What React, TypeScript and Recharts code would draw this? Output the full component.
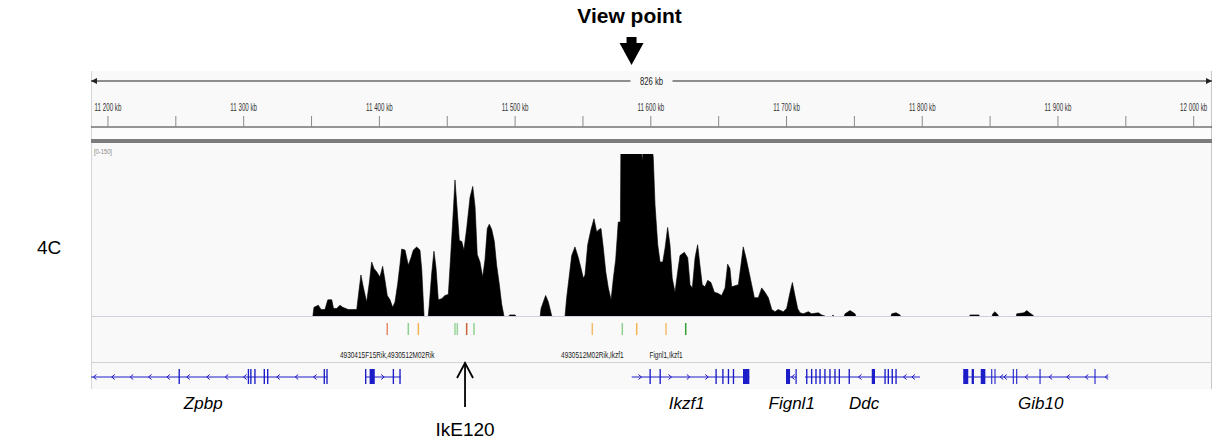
import React from "react";
import { ComposedChart, Area, Scatter, XAxis, YAxis, ReferenceLine, ReferenceArea } from "recharts";

// ---------- data ----------
const X_DOMAIN: [number, number] = [11187.5, 12013.5]; // kb shown in the browser window
const RULER_TICKS = [11200, 11250, 11300, 11350, 11400, 11450, 11500, 11550, 11600, 11650, 11700, 11750, 11800, 11850, 11900, 11950, 12000];
const MAJOR_TICKS = [11200, 11300, 11400, 11500, 11600, 11700, 11800, 11900, 12000];
const MAJOR_LABELS = ["11 200 kb", "11 300 kb", "11 400 kb", "11 500 kb", "11 600 kb", "11 700 kb", "11 800 kb", "11 900 kb", "12 000 kb"];
const SPAN_LABEL = "826 kb";
const VIEWPOINT_KB = 11585.8;
const VIEWPOINT_LABEL = "View point";
const TRACK_LABEL = "4C";
const SIGNAL_RANGE: [number, number] = [0, 150];
const SIGNAL_RANGE_LABEL = "[0-150]";

// 4C signal: segments of [kb, value]
const SIGNAL_SEGMENTS: [number, number][][] = [
  [[11351.0, 0], [11351.8, 8], [11355.0, 10], [11357.0, 6], [11359.9, 6], [11362.0, 15], [11364.9, 15], [11366.2, 7], [11368.5, 7], [11371.0, 10], [11373.0, 8], [11377.1, 6], [11383.3, 6], [11385.2, 26], [11386.4, 38], [11388.1, 27], [11390.6, 13], [11392.6, 31], [11394.3, 50], [11396.0, 44], [11398.0, 41], [11400.4, 36], [11402.4, 46], [11404.1, 33], [11405.8, 19], [11407.8, 15], [11409.8, 8], [11411.5, 13], [11413.5, 30], [11415.2, 48], [11416.4, 62], [11418.9, 61], [11421.3, 47], [11423.3, 54], [11425.0, 61], [11427.5, 64], [11429.9, 61], [11431.2, 43], [11432.9, 0]],
  [[11436.0, 0], [11436.8, 11], [11438.5, 39], [11440.2, 60], [11441.7, 45], [11443.4, 15], [11445.9, 16], [11448.3, 19], [11450.8, 20], [11452.5, 55], [11454.5, 98], [11455.7, 126], [11457.0, 104], [11458.9, 70], [11460.7, 69], [11462.3, 61], [11464.3, 81], [11466.8, 110], [11468.8, 120], [11470.5, 101], [11472.1, 57], [11474.1, 50], [11476.1, 36], [11477.8, 52], [11479.5, 81], [11481.0, 85], [11482.8, 80], [11484.7, 69], [11486.4, 47], [11488.4, 29], [11490.1, 11], [11491.8, 0]],
  [[11495.5, 0], [11496.0, 1], [11500.0, 1], [11500.5, 0]],
  [[11518.5, 0], [11519.1, 7], [11522.5, 19], [11524.5, 13], [11527.0, 0]],
  [[11536.8, 0], [11538.0, 17], [11539.7, 35], [11541.7, 56], [11544.1, 64], [11546.6, 54], [11548.6, 44], [11550.3, 35], [11551.5, 38], [11553.5, 66], [11555.9, 80], [11558.1, 90], [11560.1, 78], [11561.8, 80], [11563.3, 81], [11565.0, 63], [11566.8, 41], [11568.7, 26], [11570.7, 15], [11572.4, 35], [11574.1, 52], [11576.0, 87], [11577.6, 87], [11577.9, 150], [11593.3, 150], [11593.7, 143], [11594.1, 150], [11601.5, 150], [11601.8, 147], [11603.1, 103], [11605.1, 66], [11606.8, 50], [11608.8, 50], [11610.5, 63], [11612.4, 82], [11614.1, 66], [11615.8, 35], [11617.8, 22], [11619.8, 41], [11621.5, 56], [11624.7, 59], [11627.2, 54], [11628.9, 29], [11630.6, 26], [11632.6, 54], [11634.5, 66], [11636.2, 47], [11637.9, 29], [11639.9, 27], [11641.9, 33], [11644.3, 31], [11646.8, 22], [11649.3, 21], [11652.2, 19], [11654.7, 26], [11656.6, 48], [11658.3, 44], [11659.6, 27], [11662.0, 28], [11664.5, 29], [11666.4, 47], [11668.1, 64], [11670.1, 54], [11672.3, 41], [11674.3, 29], [11676.3, 17], [11679.2, 17], [11681.7, 26], [11684.1, 22], [11686.6, 17], [11689.1, 6], [11691.5, 4], [11693.9, 6], [11697.6, 4], [11700.1, 7], [11702.6, 22], [11704.3, 31], [11706.2, 19], [11708.2, 7], [11709.9, 3], [11712.4, 2], [11716.0, 4], [11718.5, 2], [11723.4, 3], [11725.9, 1], [11728.3, 0]],
  [[11733.8, 0], [11734.2, 1], [11734.8, 0]],
  [[11742.5, 0], [11743.1, 2], [11746.8, 5], [11750.5, 2], [11751.0, 0]],
  [[11777.0, 0], [11777.5, 2], [11780.7, 3], [11783.6, 1], [11784.0, 0]],
  [[11835.0, 0], [11835.2, 1], [11841.8, 1], [11842.0, 0]],
  [[11851.5, 0], [11852.0, 2], [11853.6, 4], [11855.8, 1], [11856.0, 0]],
  [[11869.4, 0], [11869.6, 2], [11875.0, 3], [11877.0, 5], [11879.0, 3], [11881.4, 1], [11882.0, 0]],
];

// feature track (coloured ticks + labels)
const FEATURE_KB = [11405.8, 11421.3, 11428.7, 11455.7, 11457.4, 11464.3, 11469.7, 11556.9, 11579.0, 11589.6, 11611.2, 11625.7];
const FEATURE_COLORS = ["#e88a6c", "#8fcf8f", "#f4b450", "#9ad49a", "#9ad49a", "#c8643c", "#8fcf8f", "#f4bd6c", "#8fcf8f", "#f4b450", "#f4bd6c", "#35a035"];
const FEATURE_LABEL_KB = [11405.8, 11556.9, 11611.2];
const FEATURE_LABELS = ["4930415F15Rik,4930512M02Rik", "4930512M02Rik,Ikzf1", "Fignl1,Ikzf1"];

// gene track
const GENE_NAMES = ["Zpbp", "", "Ikzf1", "Fignl1", "Ddc", "Gib10"];
const GENE_STRANDS = [-1, 1, 1, -1, -1, -1];
const GENE_SPANS: [number, number][] = [[11187.5, 11361.7], [11389.4, 11415.7], [11585.9, 11672.6], [11699.6, 11707.5], [11713.6, 11798.3], [11830.2, 11937.1]];
const GENE_LABEL_KB = [11270.2, 0, 11626.4, 11703.8, 11757.1, 11887.3];
const GENE_EXONS: [number, number][][] = [
  [[11252.0, 11253.0], [11303.0, 11304.0], [11304.8, 11305.8], [11307.8, 11308.8], [11314.7, 11315.7], [11317.2, 11318.2], [11358.9, 11359.9], [11360.9, 11361.9]],
  [[11389.4, 11390.4], [11392.8, 11396.6], [11409.8, 11410.8], [11414.7, 11415.7]],
  [[11599.0, 11600.0], [11606.4, 11607.4], [11647.6, 11648.6], [11652.6, 11653.6], [11656.7, 11657.7], [11660.4, 11661.4], [11667.9, 11672.6]],
  [[11699.6, 11702.6], [11706.6, 11707.5]],
  [[11714.4, 11715.4], [11718.0, 11719.0], [11721.2, 11722.2], [11724.2, 11725.2], [11727.8, 11728.8], [11731.5, 11732.5], [11735.2, 11736.2], [11738.4, 11739.4], [11745.7, 11746.7], [11762.8, 11765.2], [11772.1, 11773.1], [11774.5, 11775.5], [11777.4, 11778.4], [11780.2, 11781.2]],
  [[11830.2, 11833.9], [11836.4, 11838.1], [11843.1, 11846.5], [11850.8, 11851.6], [11853.2, 11854.0], [11866.7, 11867.5], [11869.2, 11870.0], [11886.4, 11887.2], [11926.9, 11927.7]],
];
const GENE_CHEVRONS: number[][] = [
  [11190.4, 11203.9, 11217.5, 11231.0, 11244.5, 11259.2, 11273.9, 11287.5, 11301.0, 11325.5, 11339.1, 11352.6],
  [11402.4],
  [11592.0, 11614.1, 11627.6, 11641.2],
  [11704.8],
  [11754.1, 11787.3, 11793.5],
  [11858.5, 11861.2, 11876.9, 11894.6, 11907.6, 11921.2, 11935.9],
];
const ENHANCER_KB = 11463.1;
const ENHANCER_LABEL = "IkE120";

// ---------- layout / style ----------
const W = 1216;
const MARGIN_X = { left: 91, right: 4 };
const BLUE = "#1c1cc8";
const FONT = "'Liberation Sans', Arial, Helvetica, sans-serif";
const SPAN_ROW = 81;
const VIEWPOINT_ROW = 65;
const FEATURE_TICK_ROWS: [number, number] = [6, 18];
const FEATURE_LABEL_ROW = 41;
const GENE_ROW = 60;
const EXON_ROWS: [number, number] = [52, 67];
const GENE_NAME_ROW = 92;
const ENHANCER_ROW = 45;

// ---------- derived tables ----------
const signalData: { x: number; v: number | null }[] = [];
SIGNAL_SEGMENTS.forEach((seg, i) => {
  if (i > 0) signalData.push({ x: (SIGNAL_SEGMENTS[i - 1][SIGNAL_SEGMENTS[i - 1].length - 1][0] + seg[0][0]) / 2, v: null });
  seg.forEach(([x, v]) => signalData.push({ x, v }));
});
const spanEnds = [{ x: X_DOMAIN[0], y: SPAN_ROW, dir: -1 }, { x: X_DOMAIN[1], y: SPAN_ROW, dir: 1 }];
const spanMid = [{ x: (X_DOMAIN[0] + X_DOMAIN[1]) / 2, y: SPAN_ROW }];
const chevronData = GENE_CHEVRONS.flatMap((list, g) => list.map((x) => ({ x, y: GENE_ROW, dir: GENE_STRANDS[g] })));
const geneNameData = GENE_NAMES.map((name, g) => ({ x: GENE_LABEL_KB[g], y: GENE_NAME_ROW, name })).filter((d) => d.name);
const featureLabelData = FEATURE_LABELS.map((name, i) => ({ x: FEATURE_LABEL_KB[i], y: FEATURE_LABEL_ROW, name }));

// horizontally condensed text (IGV's narrow font)
const Squeezed = ({ x, y, sx, size, fill = "#222", weight = "normal", children }: any) => (
  <text transform={`translate(${x},${y}) scale(${sx},1)`} x={0} y={0} textAnchor="middle" fontSize={size} fill={fill} fontWeight={weight} fontFamily={FONT}>
    {children}
  </text>
);

// ---------- shapes ----------
const RulerTick = (props: any) => {
  const { x, y, payload } = props;
  const i = MAJOR_TICKS.indexOf(payload.value);
  if (i < 0) return <g />;
  return (
    <Squeezed x={x} y={y} sx={0.62} size={10} fill="#333">
      {MAJOR_LABELS[i]}
    </Squeezed>
  );
};

const ArrowEnd = (p: any) => {
  const { cx, cy, payload } = p;
  const d = payload.dir < 0 ? `M${cx},${cy} l6,-3 l0,6 z` : `M${cx},${cy} l-6,-3 l0,6 z`;
  return <path d={d} fill="#222" />;
};

const SpanLabel = (p: any) => {
  const { cx, cy } = p;
  return (
    <g>
      <rect x={cx - 21} y={cy - 6} width={42} height={12} fill="#f9f9f9" />
      <Squeezed x={cx} y={cy + 4} sx={0.7} size={11} fill="#222">
        {SPAN_LABEL}
      </Squeezed>
    </g>
  );
};

const ViewPoint = (p: any) => {
  const { cx, cy } = p;
  return (
    <g>
      <Squeezed x={cx - 2} y={cy - 42} sx={1.05} size={20} fill="#000" weight="bold">
        {VIEWPOINT_LABEL}
      </Squeezed>
      <rect x={cx - 5} y={cy - 28} width={10} height={7} fill="#000" />
      <path d={`M${cx - 12},${cy - 22} L${cx + 12},${cy - 22} L${cx},${cy} Z`} fill="#000" />
    </g>
  );
};

const Chevron = (p: any) => {
  const { cx, cy, payload } = p;
  const d = payload.dir < 0
    ? `M${cx + 1.5},${cy - 2.5} L${cx - 1.5},${cy} L${cx + 1.5},${cy + 2.5}`
    : `M${cx - 1.5},${cy - 2.5} L${cx + 1.5},${cy} L${cx - 1.5},${cy + 2.5}`;
  return <path d={d} stroke={BLUE} strokeWidth={1} fill="none" />;
};

const GeneName = (p: any) => (
  <text x={p.cx} y={p.cy} textAnchor="middle" fontSize={17} fontStyle="italic" fill="#000" fontFamily={FONT}>
    {p.payload.name}
  </text>
);

const FeatureLabel = (p: any) => (
  <Squeezed x={p.cx} y={p.cy} sx={0.72} size={9} fill="#222">
    {p.payload.name}
  </Squeezed>
);

const Enhancer = (p: any) => {
  const { cx, cy } = p;
  return (
    <g>
      <line x1={cx} y1={cy + 1} x2={cx} y2={cy + 45} stroke="#000" strokeWidth={1.8} />
      <path d={`M${cx - 8},${cy + 16} L${cx},${cy + 1} L${cx + 8},${cy + 16}`} stroke="#000" strokeWidth={1.8} fill="none" />
      <text x={cx} y={cy + 74} textAnchor="middle" fontSize={19} fill="#000" fontFamily={FONT}>
        {ENHANCER_LABEL}
      </text>
    </g>
  );
};

const abs = (top: number): React.CSSProperties => ({ position: "absolute", left: 0, top });

export default function App() {
  return (
    <div style={{ position: "absolute", left: 0, top: 0, width: W, height: 445, background: "#fff", fontFamily: FONT, overflow: "hidden" }}>
      {/* panel background */}
      <div style={{ position: "absolute", left: 91, top: 71, width: 1121, height: 318, background: "#f9f9f9", borderLeft: "1px solid #d6d6d6", borderRight: "1px solid #c8c8c8", boxSizing: "border-box" }} />
      <div style={{ position: "absolute", left: 92, top: 128, width: 1119, height: 11, background: "#fcfcfc" }} />
      <div style={{ position: "absolute", left: 91, top: 139, width: 1121, height: 4, background: "#7c7c7c" }} />
      <div style={{ position: "absolute", left: 91, top: 316, width: 1121, height: 1, background: "#cfd0dc" }} />
      <div style={{ position: "absolute", left: 91, top: 362, width: 1121, height: 1, background: "#d3d3d3" }} />

      {/* span line + view point */}
      <div style={abs(0)}>
        <ComposedChart width={W} height={100} margin={{ top: 0, bottom: 0, ...MARGIN_X }}>
          <XAxis type="number" dataKey="x" domain={X_DOMAIN} allowDataOverflow hide />
          <YAxis type="number" dataKey="y" domain={[0, 100]} reversed allowDataOverflow hide />
          <ReferenceLine segment={[{ x: X_DOMAIN[0], y: SPAN_ROW }, { x: X_DOMAIN[1], y: SPAN_ROW }]} stroke="#222" strokeWidth={1} ifOverflow="visible" />
          <Scatter data={spanEnds} shape={ArrowEnd} isAnimationActive={false} />
          <Scatter data={spanMid} shape={SpanLabel} isAnimationActive={false} />
          <Scatter data={[{ x: VIEWPOINT_KB, y: VIEWPOINT_ROW }]} shape={ViewPoint} isAnimationActive={false} />
        </ComposedChart>
      </div>

      {/* ruler */}
      <div style={abs(0)}>
        <ComposedChart width={W} height={145} margin={{ top: 71, bottom: 2, ...MARGIN_X }}>
          <XAxis
            orientation="top"
            type="number"
            dataKey="x"
            domain={X_DOMAIN}
            allowDataOverflow
            ticks={RULER_TICKS}
            interval={0}
            height={56}
            tickSize={11}
            tickMargin={5}
            tick={RulerTick}
            axisLine={{ stroke: "#333" }}
            tickLine={{ stroke: "#8a8a8a" }}
          />
          <YAxis type="number" dataKey="y" domain={[0, 1]} hide />
          <Scatter data={[]} isAnimationActive={false} />
        </ComposedChart>
      </div>

      {/* 4C signal */}
      <div style={abs(143)}>
        <ComposedChart width={W} height={174} data={signalData} margin={{ top: 11, bottom: 1, ...MARGIN_X }}>
          <XAxis type="number" dataKey="x" domain={X_DOMAIN} allowDataOverflow hide />
          <YAxis type="number" domain={SIGNAL_RANGE} allowDataOverflow hide />
          <Area type="linear" dataKey="v" stroke="#000" strokeWidth={0.6} fill="#000" fillOpacity={1} baseValue={0} dot={false} activeDot={false} isAnimationActive={false} />
        </ComposedChart>
      </div>

      {/* features + genes */}
      <div style={abs(317)}>
        <ComposedChart width={W} height={128} margin={{ top: 0, bottom: 0, ...MARGIN_X }}>
          <XAxis type="number" dataKey="x" domain={X_DOMAIN} allowDataOverflow hide />
          <YAxis type="number" dataKey="y" domain={[0, 128]} reversed allowDataOverflow hide />
          {FEATURE_KB.map((x, i) => (
            <ReferenceLine key={"f" + i} segment={[{ x, y: FEATURE_TICK_ROWS[0] }, { x, y: FEATURE_TICK_ROWS[1] }]} stroke={FEATURE_COLORS[i]} strokeWidth={1.5} ifOverflow="visible" />
          ))}
          {GENE_SPANS.map(([s, e], g) => (
            <ReferenceLine key={"g" + g} segment={[{ x: s, y: GENE_ROW }, { x: e, y: GENE_ROW }]} stroke={BLUE} strokeWidth={1} ifOverflow="visible" />
          ))}
          {GENE_EXONS.flatMap((list, g) =>
            list.map(([s, e], j) => (
              <ReferenceArea key={`e${g}-${j}`} x1={s} x2={e} y1={EXON_ROWS[0]} y2={EXON_ROWS[1]} fill={BLUE} fillOpacity={1} stroke="none" ifOverflow="visible" />
            ))
          )}
          <Scatter data={chevronData} shape={Chevron} isAnimationActive={false} />
          <Scatter data={featureLabelData} shape={FeatureLabel} isAnimationActive={false} />
          <Scatter data={geneNameData} shape={GeneName} isAnimationActive={false} />
          <Scatter data={[{ x: ENHANCER_KB, y: ENHANCER_ROW }]} shape={Enhancer} isAnimationActive={false} />
        </ComposedChart>
      </div>

      {/* track labels */}
      <svg width={W} height={445} style={{ position: "absolute", left: 0, top: 0, pointerEvents: "none" }}>
        <text transform="translate(94,154) scale(0.72,1)" x={0} y={0} fontSize={8} fill="#888" fontFamily={FONT}>
          {SIGNAL_RANGE_LABEL}
        </text>
        <text x={37} y={254} fontSize={19} fill="#000" fontFamily={FONT}>
          {TRACK_LABEL}
        </text>
      </svg>
    </div>
  );
}
